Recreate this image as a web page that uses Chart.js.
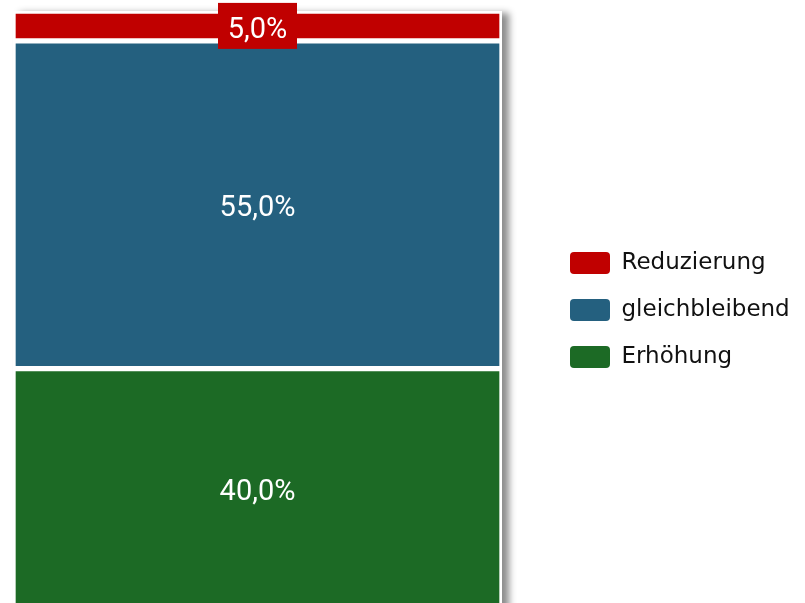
<!DOCTYPE html>
<html>
<head>
<meta charset="utf-8">
<script src="https://cdn.jsdelivr.net/npm/chart.js@4"></script>
<style>
  html, body { margin: 0; padding: 0; background: #fff; }
  #wrap { width: 805px; height: 603px; }
</style>
</head>
<body>
<div id="wrap"><canvas id="share-chart" width="805" height="603"></canvas></div>
<script>
const categories = [''];
const erhoehung = [40.0];
const gleichbleibend = [55.0];
const reduzierung = [5.0];
const seriesNames = ['Erhöhung', 'gleichbleibend', 'Reduzierung'];
const seriesColors = ['#1c6a25', '#24607f', '#c00000'];

const LABEL_FONT = "400 29px Roboto, 'DejaVu Sans', sans-serif";
const LEGEND_FONT = "'DejaVu Sans', sans-serif";

// white card with a soft shadow behind the whole bar
const barShadow = {
  id: 'barShadow',
  beforeDatasetsDraw(chart) {
    let l = Infinity, r = -Infinity, t = Infinity, b = -Infinity;
    chart.data.datasets.forEach((ds, i) => {
      chart.getDatasetMeta(i).data.forEach(el => {
        l = Math.min(l, el.x - el.width / 2);
        r = Math.max(r, el.x + el.width / 2);
        t = Math.min(t, el.y, el.base);
        b = Math.max(b, el.y, el.base);
      });
    });
    const ctx = chart.ctx;
    ctx.save();
    ctx.shadowColor = 'rgba(0,0,0,0.45)';
    ctx.shadowBlur = 7;
    ctx.shadowOffsetX = 7;
    ctx.shadowOffsetY = 2;
    ctx.fillStyle = '#fff';
    ctx.fillRect(l, t, r - l, b - t + 20);
    ctx.restore();
  }
};

// value labels in the middle of each segment, boxed when the segment is thin
const segLabels = {
  id: 'segLabels',
  afterDatasetsDraw(chart) {
    const ctx = chart.ctx;
    ctx.save();
    ctx.font = LABEL_FONT;
    ctx.textAlign = 'center';
    ctx.textBaseline = 'alphabetic';
    chart.data.datasets.forEach((ds, i) => {
      chart.getDatasetMeta(i).data.forEach((el, j) => {
        const v = ds.data[j];
        const cy = (el.y + el.base) / 2;
        if (v < 10) {
          ctx.fillStyle = ds.backgroundColor;
          ctx.fillRect(el.x - 39.5, cy - 23, 79, 46);
        }
        ctx.fillStyle = '#fff';
        ctx.fillText(v.toFixed(1).replace('.', ',') + '%', el.x, cy + 11.8);
      });
    });
    ctx.restore();
  }
};

// fixed legend column on the right
const legendBox = {
  id: 'legendBox',
  beforeLayout(chart) {
    const lg = chart.legend;
    if (lg && !lg._patched) {
      const fit = lg.fit;
      lg.fit = function () { fit.call(this); this.width = 259; };
      lg._patched = true;
    }
  },
  afterLayout(chart) {
    chart.legend.top += 3;
    chart.legend.bottom += 3;
  }
};

const values = [erhoehung, gleichbleibend, reduzierung];

const ctx = document.getElementById('share-chart').getContext('2d');
const shareChart = new Chart(ctx, {
  type: 'bar',
  data: {
    labels: categories,
    datasets: seriesNames.map((name, i) => ({
      label: name,
      data: values[i],
      backgroundColor: seriesColors[i],
      borderColor: '#fff',
      borderWidth: 3,
      borderSkipped: i === 0 ? 'bottom' : false,
      categoryPercentage: 1,
      barPercentage: 1,
    })),
  },
  options: {
    responsive: false,
    animation: false,
    layout: { padding: { left: 13, top: 11, right: 0, bottom: 0 } },
    scales: {
      x: { stacked: true, display: false },
      y: {
        stacked: true,
        min: 0.67,
        max: 100,
        position: 'right',
        grid: { display: false },
        border: { display: false },
        ticks: { display: false },
        afterFit(s) { s.width = 44; },
      },
    },
    plugins: {
      tooltip: { enabled: false },
      legend: {
        position: 'right',
        reverse: true,
        labels: {
          boxWidth: 40,
          boxHeight: 22,
          useBorderRadius: true,
          borderRadius: 4,
          padding: 24,
          color: '#111',
          font: { family: LEGEND_FONT, size: 23 },
          generateLabels(chart) {
            return Chart.defaults.plugins.legend.labels.generateLabels(chart).map(it => {
              it.lineWidth = 0;
              it.strokeStyle = it.fillStyle;
              return it;
            });
          },
        },
      },
    },
  },
  plugins: [barShadow, segLabels, legendBox],
});
</script>
</body>
</html>
